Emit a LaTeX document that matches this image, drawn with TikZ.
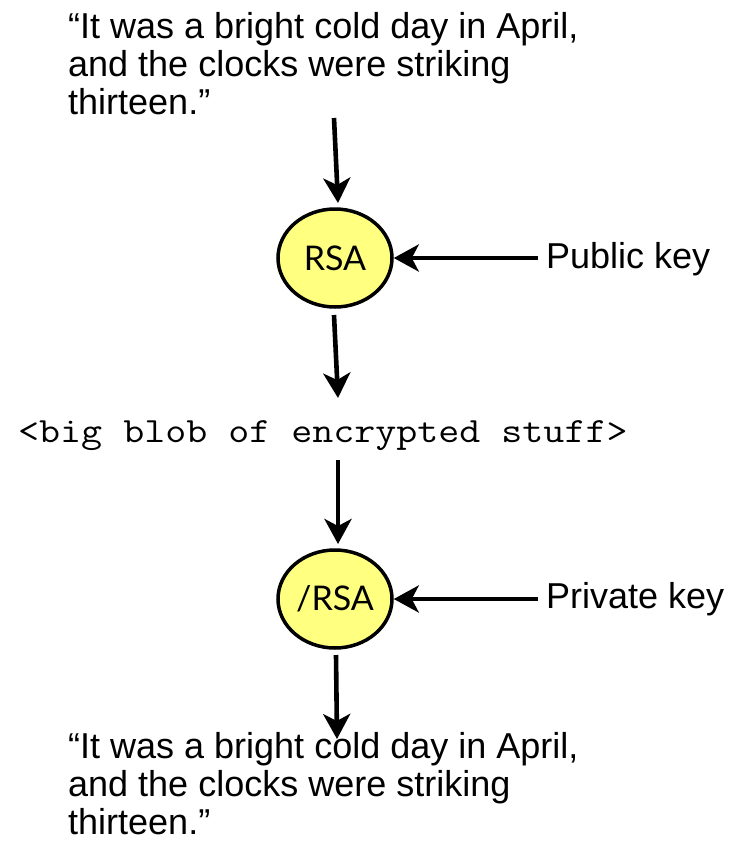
\documentclass[tikz,border=0pt]{standalone}
\usepackage{fontspec}
\usepackage{graphicx}
\setmainfont{Liberation Sans}
\newfontfamily\gillfont{Lato}
\newfontfamily\blobfont{Latin Modern Mono}
\usetikzlibrary{arrows.meta,shapes.geometric}
\definecolor{rsafill}{RGB}{255,255,128}
\begin{document}
\begin{tikzpicture}[x=1pt,y=-1pt,
  quotetext/.style={align=left, inner sep=0pt, font=\fontsize{36}{38}\selectfont},
  keytext/.style={anchor=base west, inner sep=0pt, font=\fontsize{36}{38}\selectfont},
  rsanode/.style={ellipse, draw=black, line width=3.5pt, fill=rsafill, minimum width=114pt, minimum height=98pt, inner sep=0pt, font=\gillfont\fontsize{34}{34}\selectfont},
  flow/.style={line width=4.6pt, -{Stealth[length=25pt,width=27pt,inset=7pt]}}
]
\useasboundingbox (0,0) rectangle (740,844);
\node[quotetext, anchor=north west] (plain) at (68,12) {“It was a bright cold day in April,\\and the clocks were striking\\thirteen.”};
\node[rsanode] (rsa) at (335,258) {RSA};
\node[keytext] (pub) at (546,268) {Public key};
\node[anchor=base west, inner sep=0pt, font=\blobfont\fontsize{40.8}{42}\selectfont] (enc) at (18,442) {\scalebox{1}[0.87]{<big blob of encrypted stuff>}};
\node[rsanode] (dersa) at (335,599) {/RSA};
\node[keytext] (priv) at (546,608) {Private key};
\node[quotetext, anchor=south west] (plainout) at (68,835) {“It was a bright cold day in April,\\and the clocks were striking\\thirteen.”};
\coordinate (s1) at (334,118);
\coordinate (e1) at (338,203);
\coordinate (s2) at (334,315);
\coordinate (e2) at (338,398);
\coordinate (s3) at (338,460);
\coordinate (e3) at (338,544);
\coordinate (s4) at (336,655);
\coordinate (e4) at (337,739);
\draw[flow] (s1) -- (e1);
\draw[flow] (s2) -- (e2);
\draw[flow] (s3) -- (e3);
\draw[flow] (s4) -- (e4);
\draw[flow] (pub.west |- rsa.east) ++(-8,0) coordinate (ph) -- (rsa.east);
\draw[flow] (priv.west |- dersa.east) ++(-8,0) coordinate (vh) -- (dersa.east);
\end{tikzpicture}
\end{document}
